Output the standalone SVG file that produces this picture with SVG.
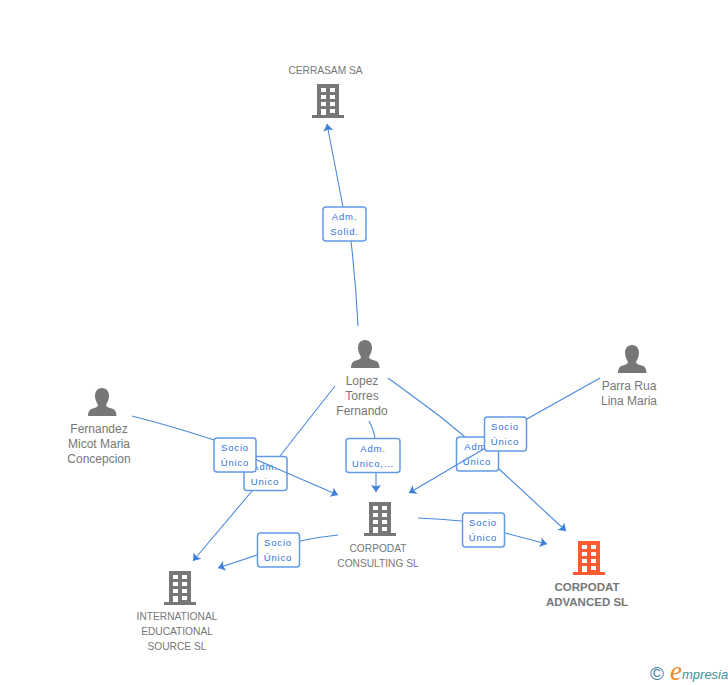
<svg xmlns="http://www.w3.org/2000/svg" width="728" height="685" viewBox="0 0 728 685">
<style>
text{font-family:"Liberation Sans",Arial,sans-serif}
.n{font-size:10.2px;fill:#777;text-anchor:middle}
.p{font-size:12px;fill:#777;text-anchor:middle}
.t{font-size:11.5px;font-weight:bold;fill:#777;text-anchor:middle}
.e{fill:none;stroke:#4a88de;stroke-width:1.1;marker-end:url(#a)}
.b{fill:#fff;stroke:#629ae6;stroke-width:1.5}
.l{font-size:9.5px;letter-spacing:.8px;fill:#2f74dc;text-anchor:middle}
</style>
<defs>
<marker id="a" markerUnits="userSpaceOnUse" markerWidth="8" markerHeight="10" refX="7" refY="5" orient="auto" viewBox="0 0 7 10"><path d="M0 0L7 5L0 10L1.500 5Z" fill="#3f7fdc"/></marker>
<g id="bld">
<path d="M5 0H27V31H32V34H0V31H5Z"/>
<g fill="#fff"><rect x="9" y="4" width="5" height="4"/><rect x="18" y="4" width="5" height="4"/><rect x="9" y="11" width="5" height="4"/><rect x="18" y="11" width="5" height="4"/><rect x="9" y="18" width="5" height="4"/><rect x="18" y="18" width="5" height="4"/><rect x="9" y="25" width="5" height="6"/><rect x="18" y="25" width="5" height="4"/></g>
</g>
<path id="per" d="M14 0C19 0 21 4 21 8C21 12 19 15 18 17C18 19 22 20 25 21C28 22 28.500 26 28.500 28H0C0 26 .5 22 3.500 21C6.500 20 10 19 10 17C9 15 7 12 7 8C7 4 9 0 14 0Z"/>
</defs>
<g id="connectors">
<path class="e" d="M358 326Q356 285 351 241L343 207L327 124"/>
<g><rect class="b" x="323" y="207" width="43" height="34" rx="3"/><text class="l" x="344.500" y="220">Adm.</text><text class="l" x="344.500" y="235">Solid.</text></g>
<path class="e" d="M335 386L280 456L252 491L193 561"/>
<g><rect class="b" x="244" y="456.500" width="43" height="34" rx="3"/><text class="l" x="265" y="469.500">Adm.</text><text class="l" x="265" y="484.500">Unico</text></g>
<path class="e" d="M132 416Q175 427 214 440L257 460L338 495"/>
<g><rect class="b" x="214" y="438" width="42" height="34" rx="3"/><text class="l" x="235" y="451">Socio</text><text class="l" x="235" y="466">Único</text></g>
<path class="e" d="M369 421Q373 428 375 438L376 472L376 492"/>
<g><rect class="b" x="346" y="438.500" width="54" height="34" rx="3"/><text class="l" x="373" y="451.500">Adm.</text><text class="l" x="373" y="466.500">Unico,...</text></g>
<path class="e" d="M388 378L418 400Q442 417 465 437L499 469L566 531"/>
<g><rect class="b" x="456.500" y="437" width="42" height="34" rx="3"/><text class="l" x="477" y="450">Adm.</text><text class="l" x="477" y="465">Único</text></g>
<path class="e" d="M600 378L527 419L482 450L409 493"/>
<g><rect class="b" x="484.500" y="417" width="42" height="34" rx="3"/><text class="l" x="505" y="430">Socio</text><text class="l" x="505" y="445">Único</text></g>
<path class="e" d="M418 518Q440 519 462 521L505 533L547 544"/>
<g><rect class="b" x="462.500" y="513" width="42" height="34" rx="3"/><text class="l" x="483" y="526">Socio</text><text class="l" x="483" y="541">Único</text></g>
<path class="e" d="M338 535Q318 537 300 541L257 555L218 568"/>
<g><rect class="b" x="257.500" y="533" width="42" height="34" rx="3"/><text class="l" x="278" y="546">Socio</text><text class="l" x="278" y="561">Único</text></g>
</g>
<g id="cerrasam"><use href="#bld" x="312" y="84" fill="#777"/><text class="n" x="325.500" y="74">CERRASAM SA</text></g>
<g id="lopez"><use href="#per" x="351" y="340" fill="#777"/><text class="p" x="362" y="385">Lopez</text><text class="p" x="362" y="400">Torres</text><text class="p" x="362" y="415">Fernando</text></g>
<g id="parra"><use href="#per" x="618" y="345" fill="#777"/><text class="p" x="629" y="390">Parra Rua</text><text class="p" x="629" y="405">Lina Maria</text></g>
<g id="fernandez"><use href="#per" x="88" y="388" fill="#777"/><text class="p" x="99" y="433">Fernandez</text><text class="p" x="99" y="448">Micot Maria</text><text class="p" x="99" y="463">Concepcion</text></g>
<g id="consulting"><use href="#bld" x="364" y="502" fill="#777"/><text class="n" x="378" y="552">CORPODAT</text><text class="n" x="378" y="567">CONSULTING SL</text></g>
<g id="international"><use href="#bld" x="164" y="571" fill="#777"/><text class="n" x="177" y="620">INTERNATIONAL</text><text class="n" x="177" y="635">EDUCATIONAL</text><text class="n" x="177" y="650">SOURCE SL</text></g>
<g id="advanced"><use href="#bld" x="573" y="541" fill="#ff5a30"/><text class="t" x="587" y="591">CORPODAT</text><text class="t" x="587" y="606">ADVANCED SL</text></g>
<g id="logo"><text x="650" y="680" font-size="19" fill="#3f7f9f">©</text><text x="670" y="680" font-size="27" font-style="italic" fill="#f08a1d" style="font-family:'Liberation Serif',serif">e</text><text x="682" y="679" font-size="13" font-style="italic" fill="#3f8f9f">mpresia</text></g>
</svg>
